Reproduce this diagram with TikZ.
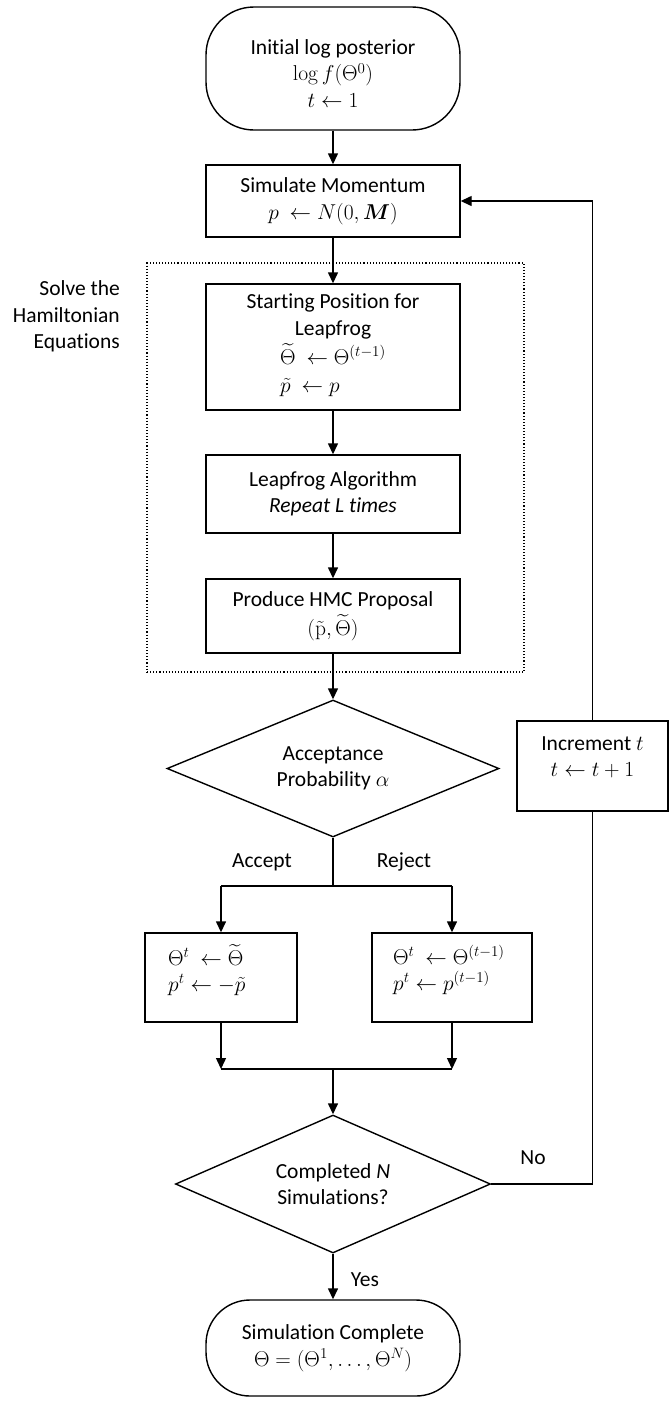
\RequirePackage{fix-cm}
\documentclass[tikz,border=0pt]{standalone}
\usepackage{amsmath}
\usepackage{bm}
\usepackage[no-math]{fontspec}
\setmainfont{Carlito}[Ligatures=NoCommon]
\usetikzlibrary{arrows.meta,shapes.geometric}
\begin{document}
\begin{tikzpicture}[x=1pt,y=-1pt,
  every node/.style={font=\fontsize{21.5}{26.5}\selectfont},
  box/.style={draw, line width=1.4pt, rectangle, minimum width=254pt, align=center, inner sep=0pt},
  term/.style={draw, line width=1.4pt, rectangle, minimum width=254pt, align=center, inner sep=0pt},
  dec/.style={draw, line width=1.4pt, diamond, aspect=2.4, inner sep=0pt, align=center},
  txt/.style={align=center, inner sep=0pt},
  conn/.style={line width=1.4pt},
  arr/.style={conn, -{Triangle[length=11pt,width=10pt]}},
]
\useasboundingbox (0,0) rectangle (669,1401);

% dotted group
\node[draw, dotted, line width=1.1pt, minimum width=377pt, minimum height=409pt, inner sep=0pt] (ham) at (335.5,467.5) {};
\node[txt, align=right, anchor=east] (solve) at (120,316.5) {Solve the\\ Hamiltonian\\ Equations};

% nodes
\node[term, rounded corners=48pt, minimum height=123pt] (start) at (333,68.5) {};
\node[txt] (startt) at (333,73.5) {Initial log posterior\\ $\log f(\Theta^0)$\\ $t \gets 1$};

\node[box, minimum height=72pt] (mom) at (333,201) {Simulate Momentum\\ $p\ \gets N(0,\bm{M})$};

\node[box, minimum height=126pt] (spos) at (333,347) {Starting Position for\\ Leapfrog\\[3pt]
  \begin{tabular}[t]{@{}l@{}}$\widetilde{\Theta}\ \gets \Theta^{(t-1)}$\\[1pt] $\tilde{p}\ \gets p$\end{tabular}};

\node[box, minimum height=78pt] (leap) at (333,494) {Leapfrog Algorithm\\ \textit{Repeat L times}};

\node[box, minimum height=74pt] (prop) at (333,616) {Produce HMC Proposal\\[3pt] $(\tilde{\mathrm{p}},\widetilde{\Theta})$};

\node[dec, minimum width=332pt, minimum height=137pt] (acc) at (333,768.5) {Acceptance\\ Probability $\alpha$};

\node[box, minimum width=151pt, minimum height=90pt] (incr) at (592.5,766) {};
\node[txt] (incrt) at (592.5,757.5) {Increment $t$\\ $t \gets t+1$};

\node[txt] (acclab) at (262,862) {Accept};
\node[txt] (rejlab) at (404,862) {Reject};

\node[box, minimum width=152pt, minimum height=89pt] (accbox) at (221,977.5) {};
\node[txt, align=left, anchor=west] (acct) at (168,970) {$\Theta^t\ \gets \widetilde{\Theta}$\\ $p^t \gets -\tilde{p}$};

\node[box, minimum width=160pt, minimum height=89pt] (rejbox) at (452,977.5) {};
\node[txt, align=left, anchor=west] (rejt) at (393,970) {$\Theta^t\ \gets \Theta^{(t-1)}$\\ $p^t \gets p^{(t-1)}$};

\node[dec, minimum width=315pt, minimum height=138pt] (done) at (333,1184) {Completed \textit{N}\\ Simulations?};

\node[txt] (nolab) at (533,1158) {No};
\node[txt] (yeslab) at (365,1280) {Yes};

\node[term, rounded corners=44pt, minimum height=96pt] (fin) at (333,1348) {Simulation Complete\\ $\Theta = (\Theta^1, \ldots, \Theta^N)$};

% coordinates
\coordinate (split) at (333,886);
\coordinate (merge) at (333,1069);

% connectors
\draw[arr] (start) -- (mom);
\draw[arr] (mom) -- (spos);
\draw[arr] (spos) -- (leap);
\draw[arr] (leap) -- (prop);
\draw[arr] (prop) -- (acc);
\draw[conn] (acc.south) -- (split);
\draw[conn] (split -| accbox.north) -- (split -| rejbox.north);
\draw[arr] (split -| accbox.north) -- (accbox.north);
\draw[arr] (split -| rejbox.north) -- (rejbox.north);
\draw[arr] (accbox.south) -- (accbox.south |- merge);
\draw[arr] (rejbox.south) -- (rejbox.south |- merge);
\draw[conn] (accbox.south |- merge) -- (rejbox.south |- merge);
\draw[arr] (merge) -- (done.north);
\draw[arr] (done.south) -- (fin.north);
\draw[conn] (done.east) -| (incr.south);
\draw[arr] (incr.north) |- (mom.east);
\end{tikzpicture}
\end{document}
